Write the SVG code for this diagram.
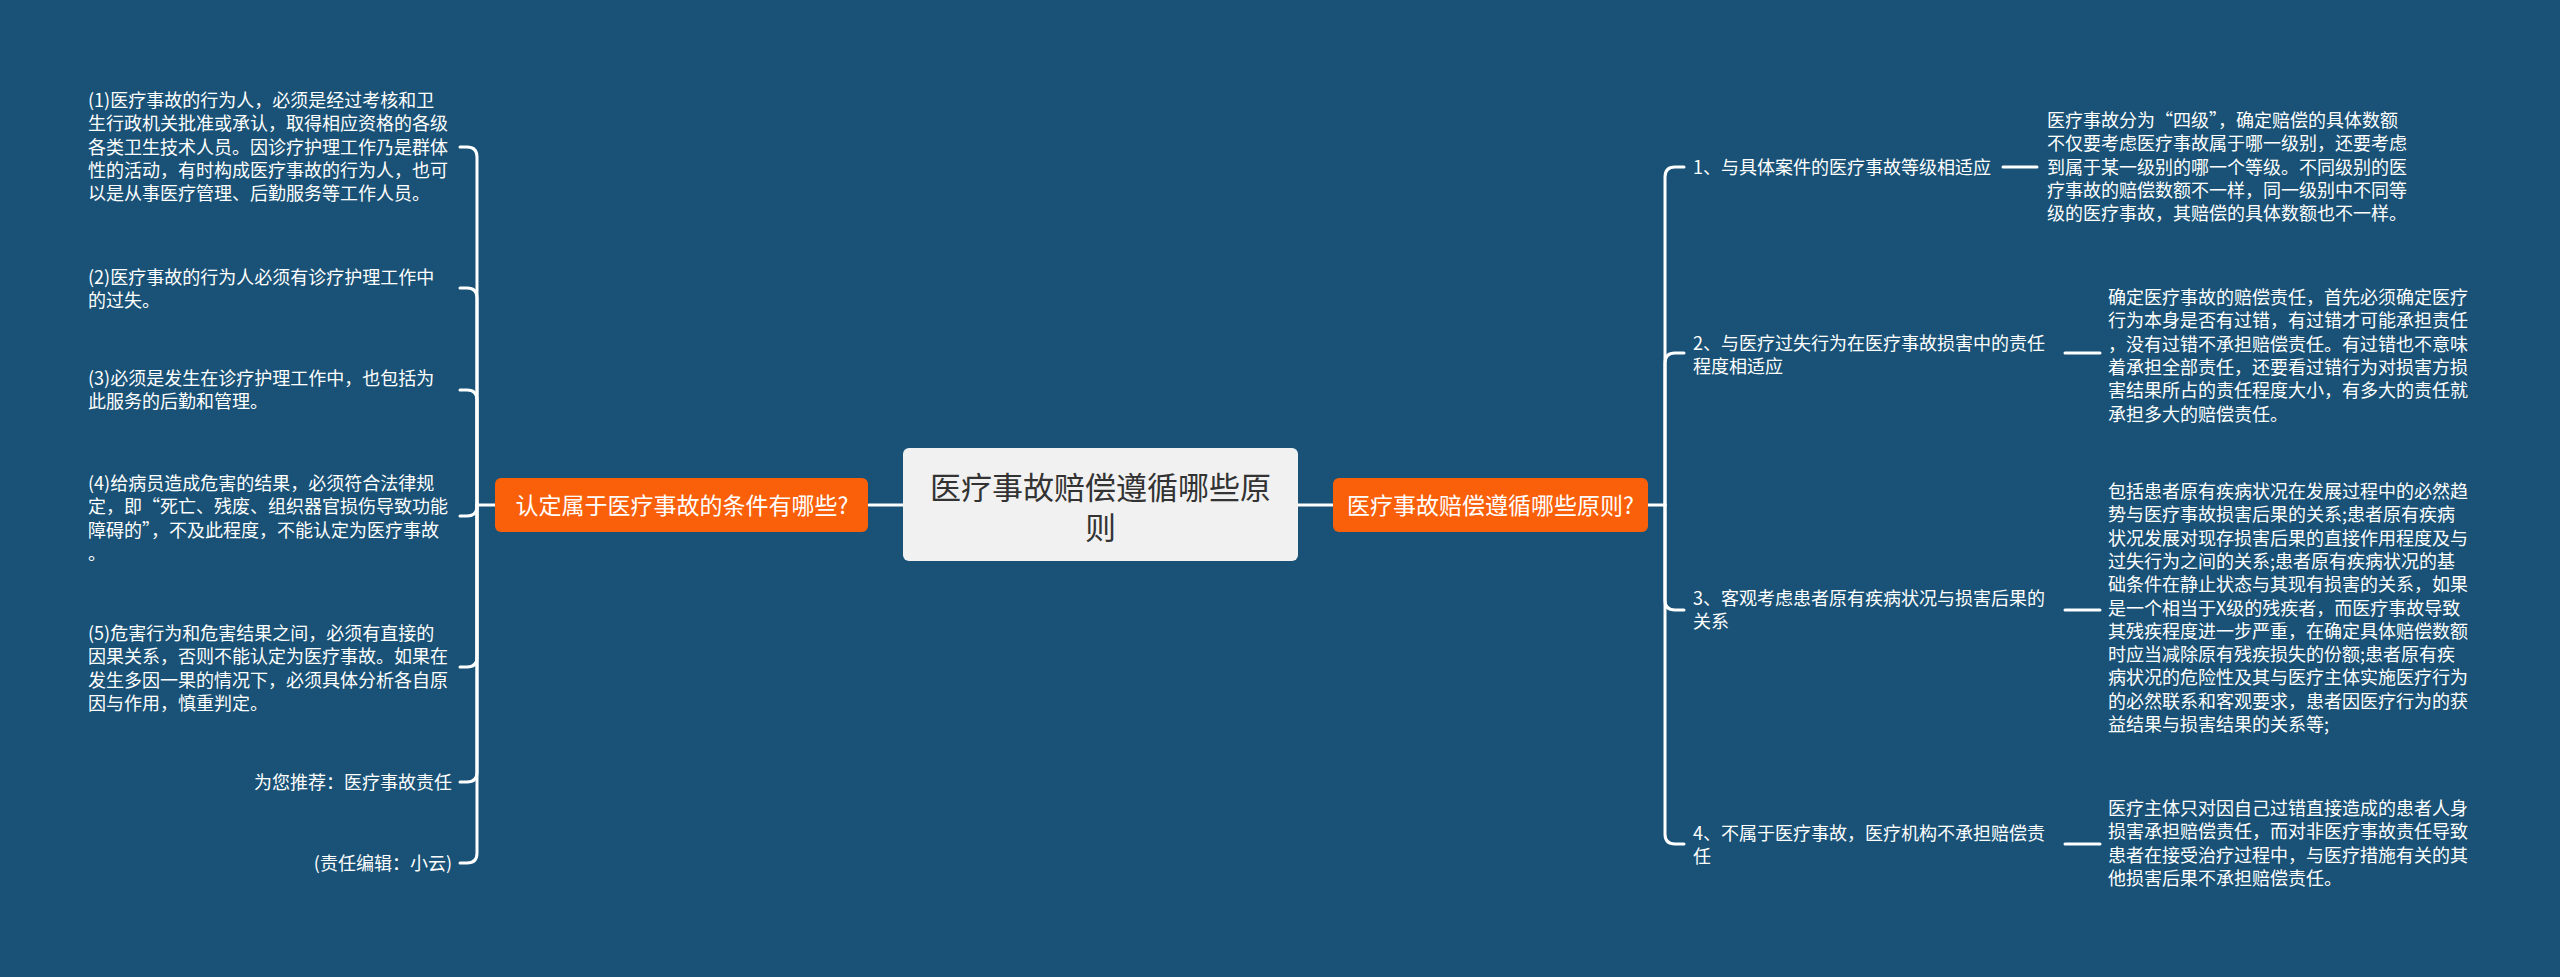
<svg xmlns="http://www.w3.org/2000/svg" width="2560" height="977" viewBox="0 0 2560 977">
<style>
.t{font-family:"Noto Sans CJK SC","Noto Sans",sans-serif;font-size:18px;fill:#ffffff}
.o{font-family:"Noto Sans CJK SC","Noto Sans",sans-serif;font-size:23px;fill:#ffffff}
.c{font-family:"Noto Sans CJK SC","Noto Sans",sans-serif;font-size:31px;fill:#333333}
.ln{fill:none;stroke:#ffffff;stroke-width:3;stroke-linecap:round;stroke-linejoin:round}
.on{fill:#fa600a}
.cn{fill:#f1f1f1}
</style>
<rect width="2560" height="977" fill="#195276"/>
<g id="connectors">
<path class="ln" d="M869 505H903M1298 505H1334M495 505H477M1648 505H1665"/>
<path class="ln" d="M477 505V157Q477 147 467 147H460"/>
<path class="ln" d="M477 505V298Q477 288 467 288H460"/>
<path class="ln" d="M477 505V400Q477 390 467 390H460"/>
<path class="ln" d="M477 505V506Q477 516 467 516H460"/>
<path class="ln" d="M477 505V657Q477 667 467 667H460"/>
<path class="ln" d="M477 505V772Q477 782 467 782H460"/>
<path class="ln" d="M477 505V853Q477 863 467 863H460"/>
<path class="ln" d="M1665 505V177Q1665 167 1675 167H1684"/>
<path class="ln" d="M1665 505V363Q1665 353 1675 353H1684"/>
<path class="ln" d="M1665 505V600Q1665 610 1675 610H1684"/>
<path class="ln" d="M1665 505V834Q1665 844 1675 844H1684"/>
<path class="ln" d="M2003 167H2037M2065 353H2100M2065 610H2100M2065 844H2100"/>
</g>
<g id="root">
<rect class="cn" x="903" y="448" width="395" height="113" rx="6"/>
<text class="c" text-anchor="middle"><tspan x="1100.5" y="499">医疗事故赔偿遵循哪些原</tspan><tspan x="1100.5" y="539">则</tspan></text>
</g>
<g id="left-topic">
<rect class="on" x="495" y="478" width="373" height="54" rx="6"/>
<text class="o" x="682" y="514" text-anchor="middle">认定属于医疗事故的条件有哪些?</text>
</g>
<g id="right-topic">
<rect class="on" x="1333" y="478" width="315" height="54" rx="6"/>
<text class="o" x="1490.5" y="514" text-anchor="middle">医疗事故赔偿遵循哪些原则?</text>
</g>
<g id="left-1">
<text class="t"><tspan x="88" y="107">(1)医疗事故的行为人，必须是经过考核和卫</tspan><tspan x="88" dy="23.3">生行政机关批准或承认，取得相应资格的各级</tspan><tspan x="88" dy="23.3">各类卫生技术人员。因诊疗护理工作乃是群体</tspan><tspan x="88" dy="23.3">性的活动，有时构成医疗事故的行为人，也可</tspan><tspan x="88" dy="23.3">以是从事医疗管理、后勤服务等工作人员。</tspan></text>
</g>
<g id="left-2">
<text class="t"><tspan x="88" y="284">(2)医疗事故的行为人必须有诊疗护理工作中</tspan><tspan x="88" dy="23.3">的过失。</tspan></text>
</g>
<g id="left-3">
<text class="t"><tspan x="88" y="385">(3)必须是发生在诊疗护理工作中，也包括为</tspan><tspan x="88" dy="23.3">此服务的后勤和管理。</tspan></text>
</g>
<g id="left-4">
<text class="t"><tspan x="88" y="490">(4)给病员造成危害的结果，必须符合法律规</tspan><tspan x="88" dy="23.3">定，即“死亡、残废、组织器官损伤导致功能</tspan><tspan x="88" dy="23.3">障碍的”，不及此程度，不能认定为医疗事故</tspan><tspan x="88" dy="23.3">。</tspan></text>
</g>
<g id="left-5">
<text class="t"><tspan x="88" y="640">(5)危害行为和危害结果之间，必须有直接的</tspan><tspan x="88" dy="23.3">因果关系，否则不能认定为医疗事故。如果在</tspan><tspan x="88" dy="23.3">发生多因一果的情况下，必须具体分析各自原</tspan><tspan x="88" dy="23.3">因与作用，慎重判定。</tspan></text>
</g>
<g id="left-6">
<text class="t" x="452" y="789" text-anchor="end">为您推荐：医疗事故责任</text>
</g>
<g id="left-7">
<text class="t" x="452" y="870" text-anchor="end">(责任编辑：小云)</text>
</g>
<g id="right-1">
<text class="t" x="1693" y="174">1、与具体案件的医疗事故等级相适应</text>
</g>
<g id="right-1-detail">
<text class="t"><tspan x="2047" y="127">医疗事故分为“四级”，确定赔偿的具体数额</tspan><tspan x="2047" dy="23.3">不仅要考虑医疗事故属于哪一级别，还要考虑</tspan><tspan x="2047" dy="23.3">到属于某一级别的哪一个等级。不同级别的医</tspan><tspan x="2047" dy="23.3">疗事故的赔偿数额不一样，同一级别中不同等</tspan><tspan x="2047" dy="23.3">级的医疗事故，其赔偿的具体数额也不一样。</tspan></text>
</g>
<g id="right-2">
<text class="t"><tspan x="1693" y="350">2、与医疗过失行为在医疗事故损害中的责任</tspan><tspan x="1693" dy="23.3">程度相适应</tspan></text>
</g>
<g id="right-2-detail">
<text class="t"><tspan x="2108" y="304">确定医疗事故的赔偿责任，首先必须确定医疗</tspan><tspan x="2108" dy="23.3">行为本身是否有过错，有过错才可能承担责任</tspan><tspan x="2108" dy="23.3">，没有过错不承担赔偿责任。有过错也不意味</tspan><tspan x="2108" dy="23.3">着承担全部责任，还要看过错行为对损害方损</tspan><tspan x="2108" dy="23.3">害结果所占的责任程度大小，有多大的责任就</tspan><tspan x="2108" dy="23.3">承担多大的赔偿责任。</tspan></text>
</g>
<g id="right-3">
<text class="t"><tspan x="1693" y="605">3、客观考虑患者原有疾病状况与损害后果的</tspan><tspan x="1693" dy="23.3">关系</tspan></text>
</g>
<g id="right-3-detail">
<text class="t"><tspan x="2108" y="498">包括患者原有疾病状况在发展过程中的必然趋</tspan><tspan x="2108" dy="23.3">势与医疗事故损害后果的关系;患者原有疾病</tspan><tspan x="2108" dy="23.3">状况发展对现存损害后果的直接作用程度及与</tspan><tspan x="2108" dy="23.3">过失行为之间的关系;患者原有疾病状况的基</tspan><tspan x="2108" dy="23.3">础条件在静止状态与其现有损害的关系，如果</tspan><tspan x="2108" dy="23.3">是一个相当于X级的残疾者，而医疗事故导致</tspan><tspan x="2108" dy="23.3">其残疾程度进一步严重，在确定具体赔偿数额</tspan><tspan x="2108" dy="23.3">时应当减除原有残疾损失的份额;患者原有疾</tspan><tspan x="2108" dy="23.3">病状况的危险性及其与医疗主体实施医疗行为</tspan><tspan x="2108" dy="23.3">的必然联系和客观要求，患者因医疗行为的获</tspan><tspan x="2108" dy="23.3">益结果与损害结果的关系等;</tspan></text>
</g>
<g id="right-4">
<text class="t"><tspan x="1693" y="840">4、不属于医疗事故，医疗机构不承担赔偿责</tspan><tspan x="1693" dy="23.3">任</tspan></text>
</g>
<g id="right-4-detail">
<text class="t"><tspan x="2108" y="815">医疗主体只对因自己过错直接造成的患者人身</tspan><tspan x="2108" dy="23.3">损害承担赔偿责任，而对非医疗事故责任导致</tspan><tspan x="2108" dy="23.3">患者在接受治疗过程中，与医疗措施有关的其</tspan><tspan x="2108" dy="23.3">他损害后果不承担赔偿责任。</tspan></text>
</g>
</svg>
